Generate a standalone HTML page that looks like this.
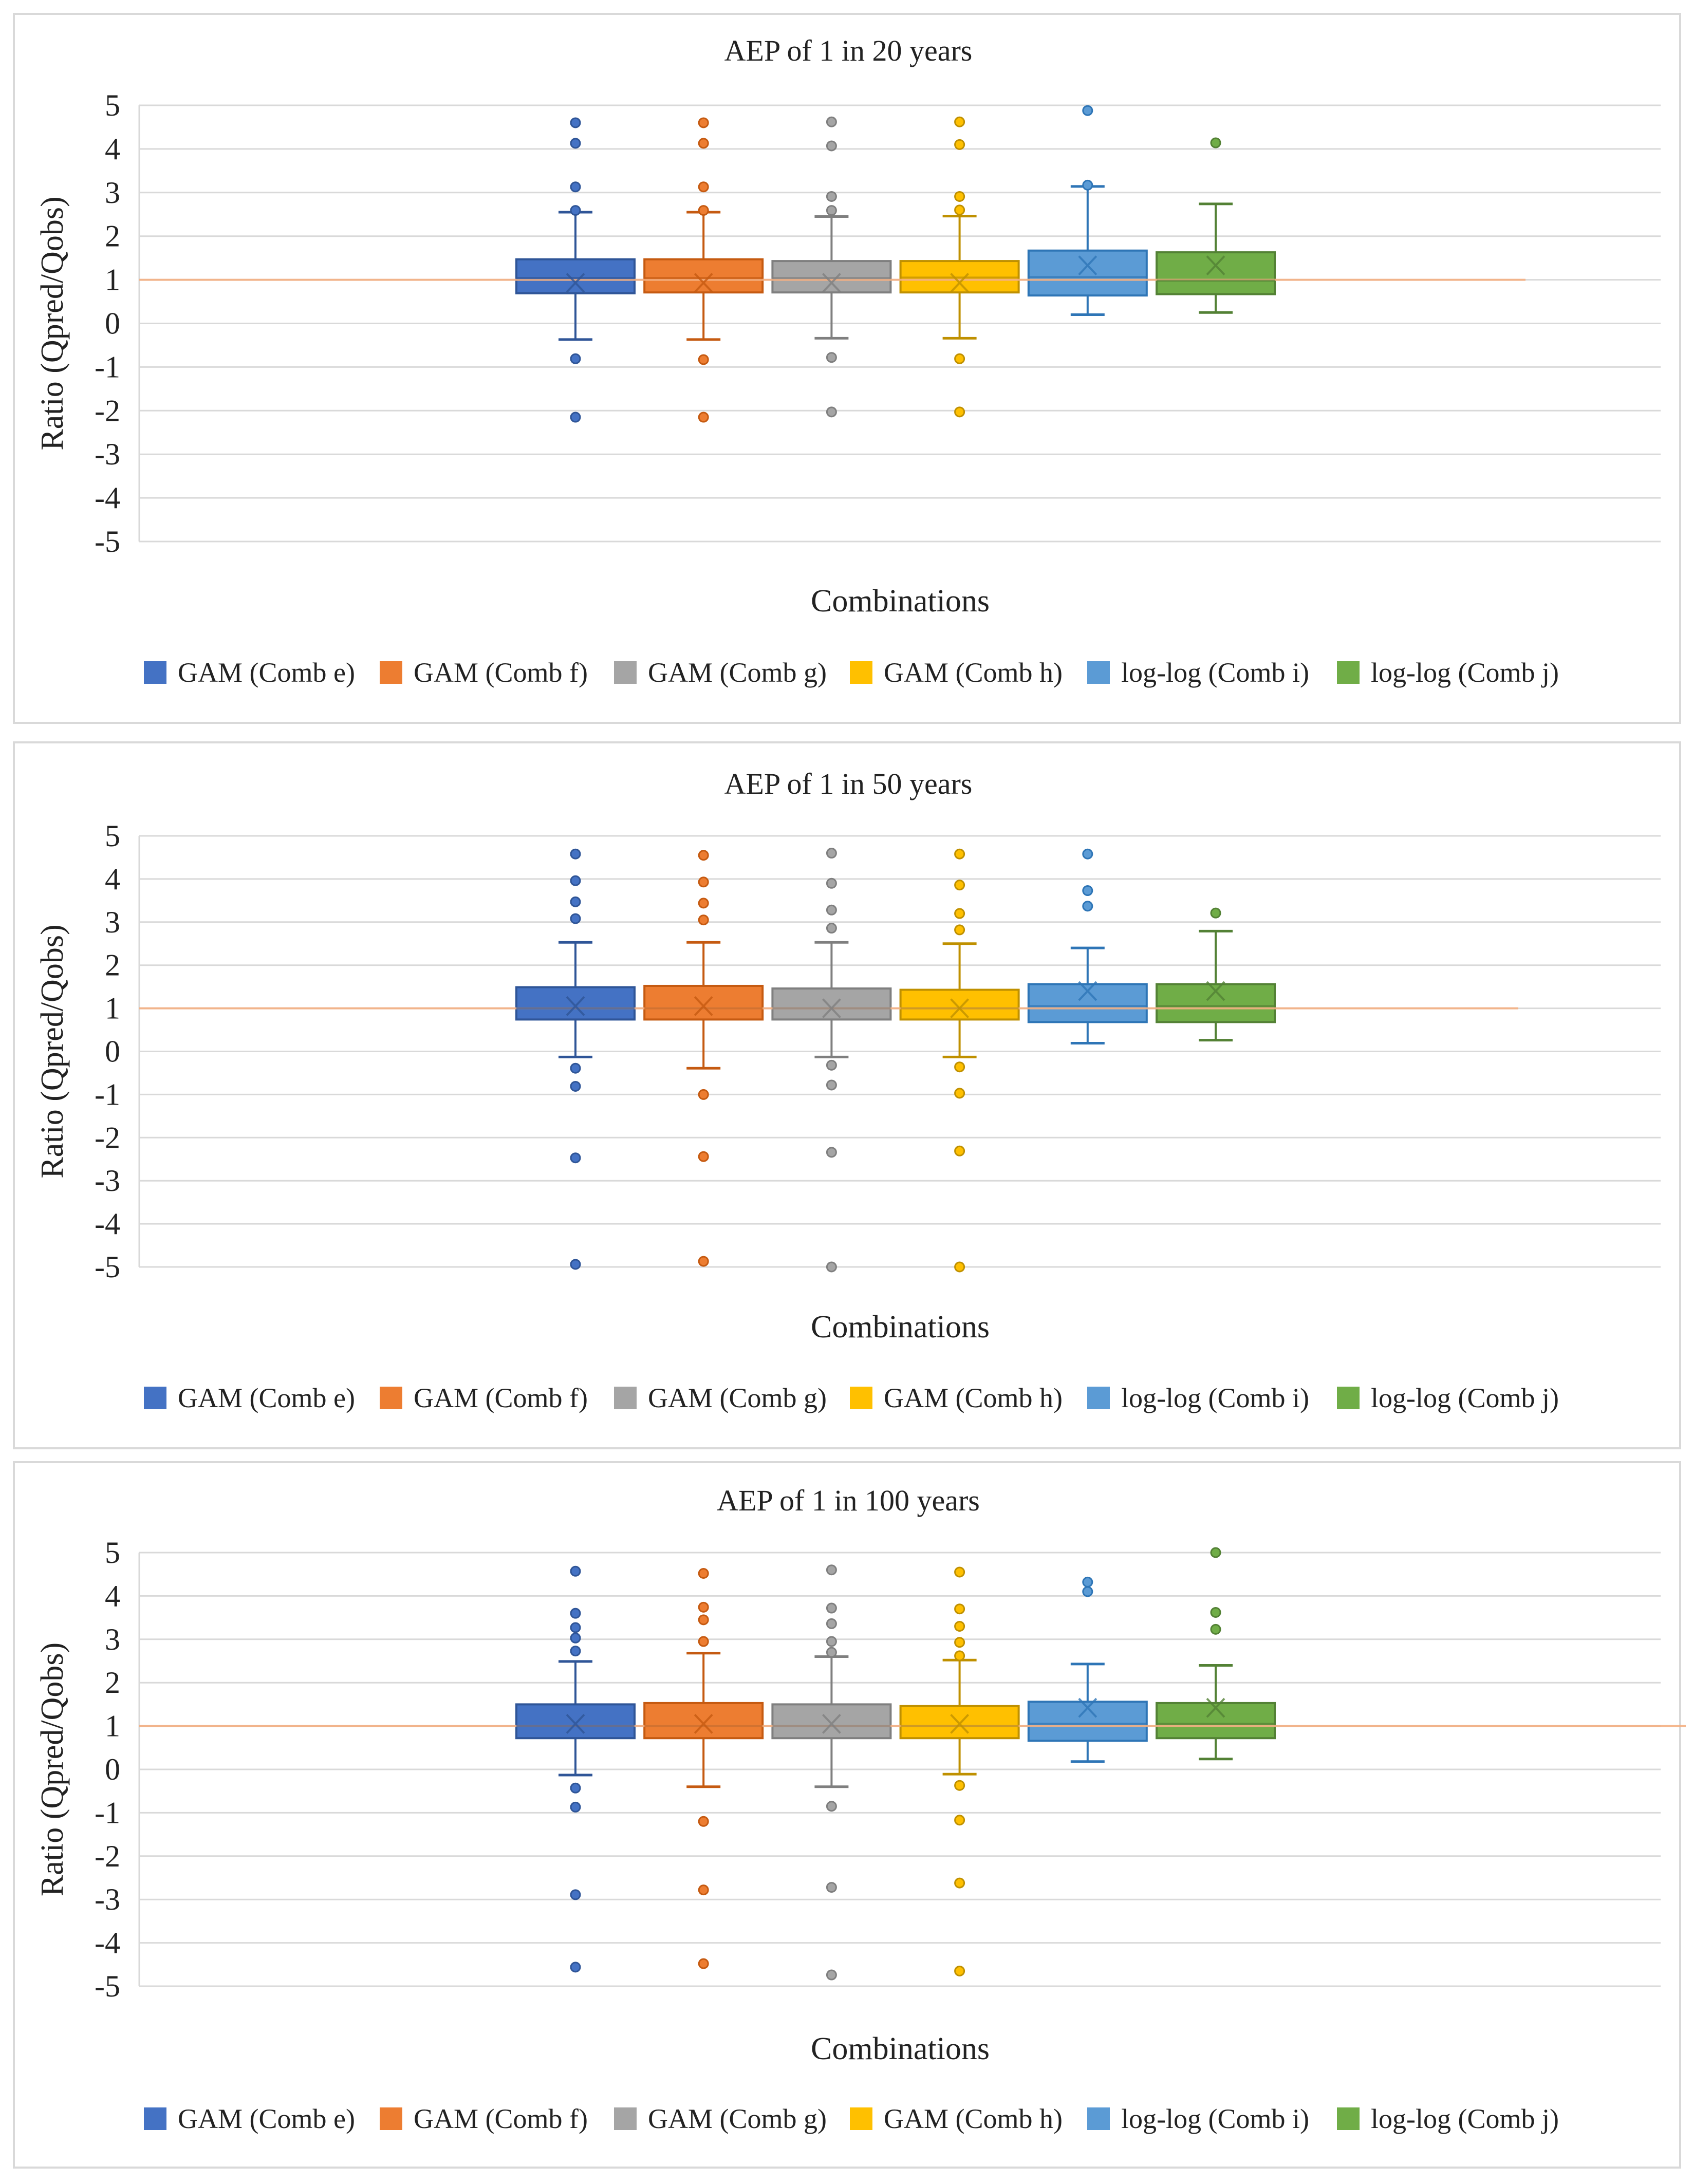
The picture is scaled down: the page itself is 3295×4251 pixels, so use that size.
<!DOCTYPE html>
<html><head><meta charset="utf-8">
<style>
html,body{margin:0;padding:0;background:#fff;}
svg{display:block;}
text{font-family:"Liberation Serif",serif;fill:#222;}
</style></head>
<body>
<svg id="chart" width="3295" height="4251" viewBox="0 0 3295 4251" xmlns="http://www.w3.org/2000/svg"></svg>
<script>
const categories = ["GAM (Comb e)","GAM (Comb f)","GAM (Comb g)","GAM (Comb h)","log-log (Comb i)","log-log (Comb j)"];
const yTicks = [5,4,3,2,1,0,-1,-2,-3,-4,-5];
const panelTitles = ["AEP of 1 in 20 years","AEP of 1 in 50 years","AEP of 1 in 100 years"];

// Panel 1: AEP 1 in 20
const p1Q1 = [0.69,0.71,0.71,0.71,0.64,0.67];
const p1Q3 = [1.47,1.47,1.43,1.43,1.67,1.63];
const p1Median = [1.04,1.04,1.04,1.05,1.06,0.98];
const p1Mean = [0.93,0.93,0.93,0.93,1.33,1.33];
const p1WhiskLo = [-0.37,-0.37,-0.34,-0.34,0.2,0.25];
const p1WhiskHi = [2.55,2.55,2.45,2.46,3.14,2.74];
const p1Outliers = [[4.6,4.13,3.13,2.59,-0.81,-2.15],[4.6,4.13,3.13,2.59,-0.83,-2.15],[4.62,4.07,2.91,2.59,-0.78,-2.03],[4.62,4.1,2.91,2.6,-0.81,-2.03],[4.88,3.17],[4.14]];

// Panel 2: AEP 1 in 50
const p2Q1 = [0.74,0.74,0.74,0.74,0.68,0.68];
const p2Q3 = [1.49,1.52,1.46,1.43,1.56,1.56];
const p2Median = [1.0,1.0,1.0,1.0,1.05,1.05];
const p2Mean = [1.05,1.05,1.0,1.0,1.4,1.4];
const p2WhiskLo = [-0.13,-0.39,-0.13,-0.13,0.19,0.26];
const p2WhiskHi = [2.53,2.53,2.53,2.5,2.4,2.79];
const p2Outliers = [[4.58,3.96,3.47,3.08,-0.39,-0.81,-2.47,-4.94],[4.55,3.93,3.44,3.05,-1.0,-2.44,-4.87],[4.6,3.9,3.28,2.86,-0.32,-0.78,-2.34,-5.0],[4.58,3.86,3.2,2.82,-0.36,-0.97,-2.31,-5.0],[4.58,3.73,3.37],[3.21]];

// Panel 3: AEP 1 in 100
const p3Q1 = [0.72,0.72,0.72,0.72,0.66,0.72];
const p3Q3 = [1.5,1.53,1.5,1.46,1.56,1.53];
const p3Median = [1.0,1.0,1.0,1.0,1.05,1.05];
const p3Mean = [1.05,1.05,1.05,1.05,1.42,1.42];
const p3WhiskLo = [-0.13,-0.4,-0.4,-0.11,0.18,0.24];
const p3WhiskHi = [2.49,2.68,2.6,2.52,2.43,2.4];
const p3Outliers = [[4.57,3.6,3.27,3.03,2.73,-0.43,-0.87,-2.89,-4.56],[4.52,3.74,3.45,2.95,-1.2,-2.78,-4.48],[4.6,3.72,3.36,2.95,2.7,-0.85,-2.72,-4.74],[4.55,3.7,3.3,2.93,2.62,-0.37,-1.17,-2.62,-4.65],[4.32,4.1],[5.0,3.62,3.23]];
const refValue = 1;

const panelData = [
 {q1:p1Q1,q3:p1Q3,med:p1Median,mean:p1Mean,lo:p1WhiskLo,hi:p1WhiskHi,out:p1Outliers},
 {q1:p2Q1,q3:p2Q3,med:p2Median,mean:p2Mean,lo:p2WhiskLo,hi:p2WhiskHi,out:p2Outliers},
 {q1:p3Q1,q3:p3Q3,med:p3Median,mean:p3Mean,lo:p3WhiskLo,hi:p3WhiskHi,out:p3Outliers}
];
const layouts = [
 {bx:27,by:27,bw:3243,bh:1380,top:205,bottom:1054,titleY:118,combY:1190,legY:1309,refEnd:2969},
 {bx:27,by:1445,bw:3243,bh:1374,top:1627,bottom:2466,titleY:1545,combY:2603,legY:2721,refEnd:2955},
 {bx:27,by:2846,bw:3243,bh:1373,top:3022,bottom:3866,titleY:2940,combY:4008,legY:4124,refEnd:3281}
];
const fills = ["#4472C4","#ED7D31","#A5A5A5","#FFC000","#5B9BD5","#70AD47"];
const strokes = ["#2F5597","#C55A11","#7F7F7F","#BF9000","#2E75B6","#538135"];
const legendX = [280,739,1195,1654,2116,2602];
const plotL = 271, plotR = 3232;
const NS = "http://www.w3.org/2000/svg";
const svg = document.getElementById("chart");
function mk(tag, attrs, parent){const e=document.createElementNS(NS,tag);for(const k in attrs)e.setAttribute(k,attrs[k]);(parent||svg).appendChild(e);return e;}
function xScale(i){return 1120 + i*249.2;}

panelData.forEach((d,p)=>{
  const L = layouts[p];
  const yScale = v => L.top + (5 - v) * (L.bottom - L.top) / 10;
  const g = mk("g",{});
  
  
  const border = mk("rect",{x:L.bx,y:L.by,width:L.bw,height:L.bh,fill:"#fff",stroke:"#D9D9D9","stroke-width":4},g);
  
  
  const t = mk("text",{x:1651,y:L.titleY,"text-anchor":"middle","font-size":58},g);
  t.textContent = panelTitles[p];
  
  
  yTicks.forEach(v=>{
    const y = yScale(v);
    const gl = mk("line",{x1:plotL,x2:plotR,y1:y,y2:y,stroke:"#D9D9D9","stroke-width":3},g);
    
    
    const tl = mk("text",{x:234,y:y+20,"text-anchor":"end","font-size":60},g);
    tl.textContent = v;
    
    
  });
  const ax = mk("line",{x1:plotL,x2:plotL,y1:L.top,y2:L.bottom,stroke:"#D9D9D9","stroke-width":3},g);
  
  
  const yt = mk("text",{x:0,y:0,"text-anchor":"middle","font-size":62,transform:`translate(122,${(L.top+L.bottom)/2}) rotate(-90)`},g);
  yt.textContent = "Ratio (Qpred/Qobs)";
  
  
  const ct = mk("text",{x:1752,y:L.combY,"text-anchor":"middle","font-size":62},g);
  ct.textContent = "Combinations";
  
  

  categories.forEach((c,i)=>{
    const cx = xScale(i), hw = 115, cap = 33;
    const bg = mk("g",{},g);
    
    
    const yHi=yScale(d.hi[i]), yLo=yScale(d.lo[i]), y3=yScale(d.q3[i]), y1=yScale(d.q1[i]);
    mk("line",{x1:cx,x2:cx,y1:yHi,y2:y3,stroke:strokes[i],"stroke-width":4},bg);
    mk("line",{x1:cx,x2:cx,y1:y1,y2:yLo,stroke:strokes[i],"stroke-width":4},bg);
    mk("line",{x1:cx-cap,x2:cx+cap,y1:yHi,y2:yHi,stroke:strokes[i],"stroke-width":5},bg);
    mk("line",{x1:cx-cap,x2:cx+cap,y1:yLo,y2:yLo,stroke:strokes[i],"stroke-width":5},bg);
    mk("rect",{x:cx-hw,y:y3,width:2*hw,height:y1-y3,fill:fills[i],stroke:strokes[i],"stroke-width":4},bg);
  });
  const ref = mk("line",{x1:plotL,x2:L.refEnd,y1:yScale(refValue),y2:yScale(refValue),stroke:"#F4B183","stroke-width":4,opacity:0.9},g);
  
  
  categories.forEach((c,i)=>{
    const cx = xScale(i);
    const ym = yScale(d.med[i]);
    const md = mk("line",{x1:cx-115,x2:cx+115,y1:ym,y2:ym,stroke:strokes[i],"stroke-width":4,opacity:0.7},g);
    
    
    const ymn = yScale(d.mean[i]);
    const mx = mk("path",{d:`M${cx-17},${ymn-18}L${cx+17},${ymn+18}M${cx+17},${ymn-18}L${cx-17},${ymn+18}`,stroke:strokes[i],"stroke-width":4,fill:"none",opacity:0.8},g);
    
    
    d.out[i].forEach(v=>{
      const o = mk("circle",{cx:cx,cy:yScale(v),r:9,fill:fills[i],stroke:strokes[i],"stroke-width":3},g);
      
      
    });
  });
  categories.forEach((c,i)=>{
    const lg = mk("g",{},g);
    
    
    mk("rect",{x:legendX[i],y:L.legY-22,width:44,height:44,fill:fills[i]},lg);
    const lt = mk("text",{x:legendX[i]+66,y:L.legY+18,"font-size":54},lg);
    lt.textContent = c;
  });
});
</script>
</body></html>
